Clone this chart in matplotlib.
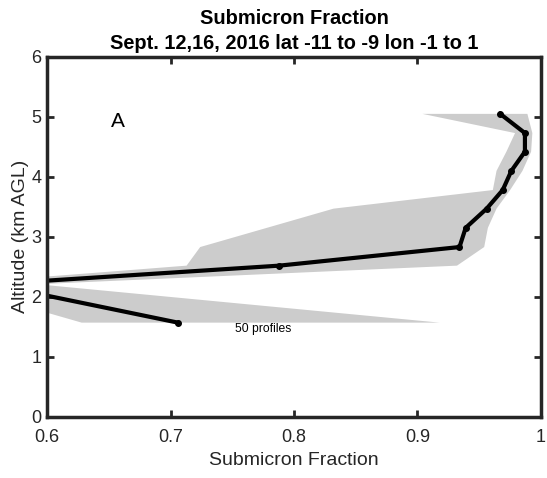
import numpy as np
import matplotlib.pyplot as plt

# Mean submicron fraction profile with min/max envelope
altitude = [5.05, 4.73, 4.42, 4.10, 3.78, 3.47, 3.15, 2.83, 2.52, 2.21, 1.57]
frac_mean = [0.967, 0.987, 0.987, 0.976, 0.969, 0.956, 0.939, 0.934, 0.788, 0.555, 0.706]
frac_min = [0.904, 0.979, 0.972, 0.964, 0.961, 0.832, 0.778, 0.724, 0.713, 0.52, 0.628]
frac_max = [0.989, 0.993, 0.992, 0.985, 0.975, 0.964, 0.957, 0.954, 0.932, 0.592, 0.918]

xticks = [0.6, 0.7, 0.8, 0.9, 1.0]
xtick_labels = ["0.6", "0.7", "0.8", "0.9", "1"]
yticks = [0, 1, 2, 3, 4, 5, 6]

plt.rcParams["font.family"] = ["Liberation Sans", "DejaVu Sans"]

fig = plt.figure(figsize=(5.47, 4.78), dpi=100)
ax = fig.add_axes([0.086, 0.128, 0.903, 0.753])

ax.fill_betweenx(altitude, frac_min, frac_max, color="#cccccc", linewidth=0)
ax.plot(frac_mean, altitude, color="black", linewidth=3, marker="o", markersize=4)

ax.text(0.657, 4.93, "A", fontsize=15, ha="center", va="center")
ax.text(0.775, 1.47, "50 profiles", fontsize=8.7, ha="center", va="center")

ax.set_xlim(0.6, 1.0)
ax.set_ylim(0, 6)
ax.set_xticks(xticks)
ax.set_xticklabels(xtick_labels)
ax.set_yticks(yticks)
ax.tick_params(direction="in", length=5, width=2, labelsize=13, colors="#262626",
               top=True, right=True, pad=4)
ax.tick_params(axis="x", pad=9)
for side in ax.spines.values():
    side.set_linewidth(2.5)
    side.set_color("#262626")

ax.set_xlabel("Submicron Fraction", fontsize=14, color="#262626", labelpad=4)
ax.set_ylabel("Altitude (km AGL)", fontsize=14, color="#262626", labelpad=2)
ax.set_title("Submicron Fraction\nSept. 12,16, 2016 lat -11 to -9 lon -1 to 1",
             fontsize=14.4, fontweight="bold", linespacing=1.35, pad=6)

fig.savefig("out.png", dpi=100)
